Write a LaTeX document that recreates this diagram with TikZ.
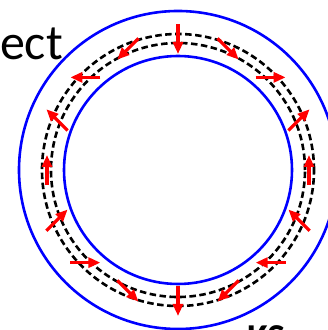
\documentclass[tikz,border=0pt]{standalone}
\usepackage{fontspec}
\setmainfont{Carlito}
\usetikzlibrary{arrows.meta,calc}

\tikzset{
  ring/.style={blue, line width=2.6pt},
  track/.style={black, line width=2.6pt, dash pattern=on 6.5pt off 3.5pt},
  vec/.style={red, line width=3.2pt, -{Triangle[length=12pt,width=10pt]}},
}

\begin{document}
\begin{tikzpicture}[x=1pt,y=1pt]
  \useasboundingbox (0,0) rectangle (328,330);
  \clip (0,0) rectangle (328,330);

  \coordinate (C) at (178,160);

  % boundary walls
  \draw[ring] (C) circle[radius=159];
  \draw[ring] (C) circle[radius=114];

  % dashed tracks
  \draw[track] (C) circle[radius=136];
  \draw[track] (C) circle[radius=127];

  % orientation vectors along the ring
  \begin{scope}[shift={(C)}]
    \foreach \i [evaluate=\i as \t using \i*22.5,
                 evaluate=\i as \p using 90-2*\i*22.5] in {0,...,15} {
      \draw[vec] ($(\t:131)+(\p+180:15)$) -- ++(\p:30);
    }
  \end{scope}

  % labels
  \node[anchor=base east, inner sep=0pt, font=\fontsize{50}{50}\selectfont] (lbl) at (63,270) {ect};
  \node[anchor=base west, inner sep=0pt, font=\fontsize{38}{38}\selectfont\bfseries] (lbl2) at (247,-20.5) {KS};
\end{tikzpicture}
\end{document}
